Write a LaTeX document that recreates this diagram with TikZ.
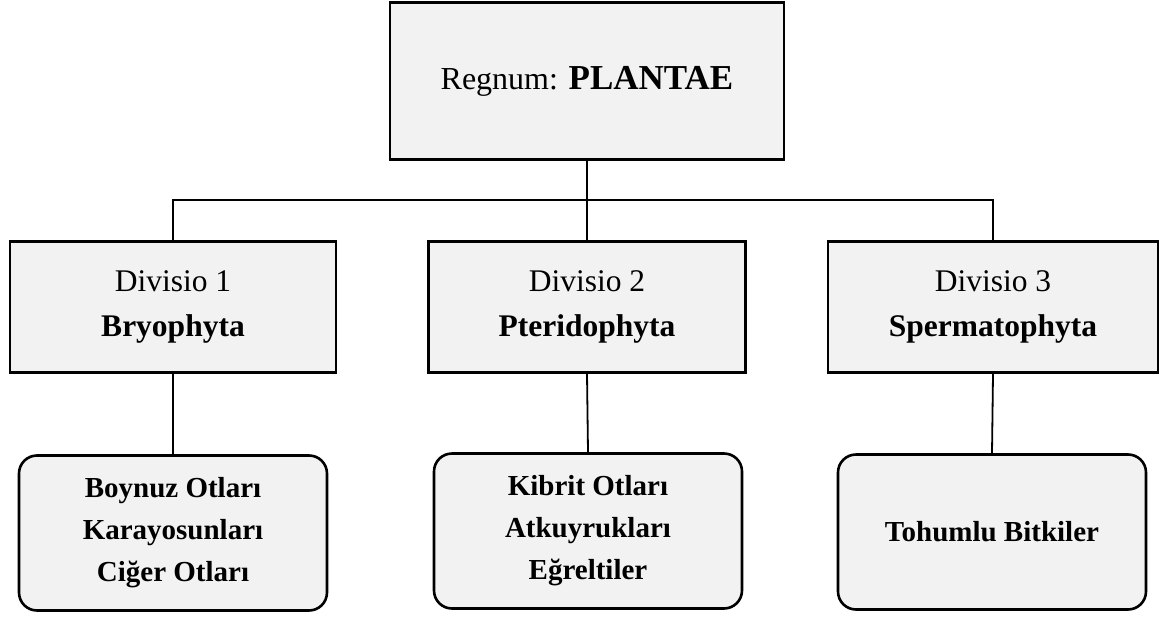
\documentclass[tikz,border=0pt]{standalone}
\usepackage{fontspec}
\setmainfont{Liberation Serif}
\usetikzlibrary{positioning}

\begin{document}
\begin{tikzpicture}[
            x=1pt, y=-1pt,
            every node/.style={ draw, line width=2.6pt, fill=black!5, align=center, inner sep=0pt },
            topbox/.style={ minimum width=394pt, minimum height=157pt, font=\fontsize{32}{40}\selectfont },
            divbox/.style={ minimum height=131pt, font=\fontsize{31.5}{46}\selectfont },
            leafbox/.style={ rounded corners=18pt, minimum width=308pt, minimum height=155pt, font=\fontsize{29}{42}\selectfont\bfseries },
            link/.style={ line width=1.8pt }
        ]
        \useasboundingbox (0,0) rectangle (1161,618);

        \node[topbox] (regnum) at (587,81) {\raisebox{-2pt}{Regnum: {\fontsize{35}{40}\selectfont\bfseries PLANTAE}}};

        \node[divbox, minimum width=326pt] (div1) at (173,307) {\raisebox{-3pt}{Divisio 1}\\[2pt] {\fontsize{31.5}{46}\selectfont\bfseries Bryophyta}};
        \node[divbox, minimum width=317pt] (div2) at (587,307) {\raisebox{-3pt}{Divisio 2}\\[2pt] {\fontsize{31.5}{46}\selectfont\bfseries Pteridophyta}};
        \node[divbox, minimum width=330pt] (div3) at (993,307) {\raisebox{-3pt}{Divisio 3}\\[2pt] {\fontsize{31.5}{46}\selectfont\bfseries Spermatophyta}};

        \node[leafbox] (leaf1) at (173,533) {Boynuz Otları\\ Karayosunları\\ Ciğer Otları};
        \node[leafbox] (leaf2) at (588,531) {Kibrit Otları\\ Atkuyrukları\\ Eğreltiler};
        \node[leafbox] (leaf3) at (992,532) {Tohumlu Bitkiler};

        \coordinate (bus) at (587,200);
        \draw[link] (regnum.south) -- (bus);
        \draw[link] (div1.north) |- (bus) -| (div3.north);
        \draw[link] (bus) -- (div2.north);

        \draw[link] (div1.south) -- (leaf1.north);
        \draw[link] (div2.south) -- (leaf2.north);
        \draw[link] (div3.south) -- (leaf3.north);
    \end{tikzpicture}
\end{document}
